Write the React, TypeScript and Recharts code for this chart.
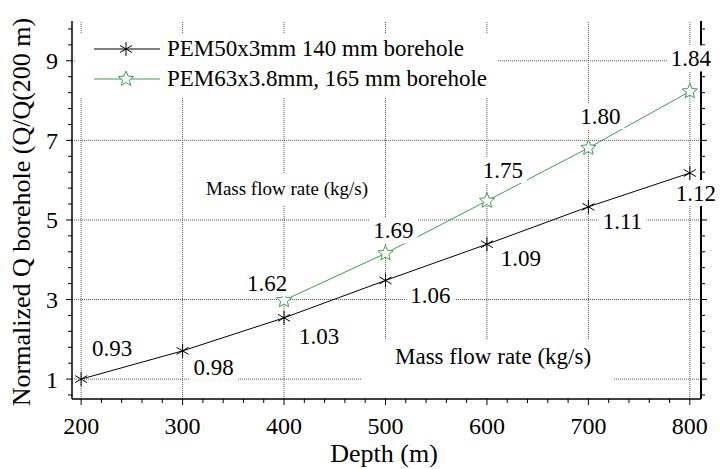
import React from 'react';
import { LineChart, Line, XAxis, YAxis, ReferenceLine, LabelList } from 'recharts';

// depth (m) and normalized heat extraction Q/Q(200 m)
const depths = [200, 300, 400, 500, 600, 700, 800];
const pem50Q = [1.0, 1.71, 2.54, 3.48, 4.39, 5.33, 6.18];
const pem63Q = [null, null, 2.98, 4.16, 5.48, 6.81, 8.23];
// mass flow rate labels (kg/s)
const pem50Flow = ['0.93', '0.98', '1.03', '1.06', '1.09', '1.11', '1.12'];
const pem63Flow = [null, null, '1.62', '1.69', '1.75', '1.80', '1.84'];

const xMajorTicks = [200, 300, 400, 500, 600, 700, 800];
const xMinorTicks = [220, 240, 260, 280, 320, 340, 360, 380, 420, 440, 460, 480, 520, 540, 560, 580, 620, 640, 660, 680, 720, 740, 760, 780];
const yMajorTicks = [1, 3, 5, 7, 9];
const yMinorTicks = [0.6, 1.4, 1.8, 2.2, 2.6, 3.4, 3.8, 4.2, 4.6, 5.4, 5.8, 6.2, 6.6, 7.4, 7.8, 8.2, 8.6, 9.4, 9.8];

const seriesNames = ['PEM50x3mm 140 mm borehole', 'PEM63x3.8mm, 165 mm borehole'];

// label placement relative to each point (px)
const pem50Offsets = [[31, -31], [31, 16], [35, 18], [45, 15], [34, 14], [34, 14], [6, 20]];
const pem63Offsets = [null, null, [-17, -17], [8, -23], [16, -31], [12, -32], [1, -33]];

const data = depths.map((d, i) => ({
  depth: d,
  pem50: pem50Q[i],
  pem63: pem63Q[i],
  flow50: pem50Flow[i],
  flow63: pem63Flow[i],
}));

const FONT = 'Liberation Serif';
const GREEN = '#3f9c52';
const xAll = [...xMajorTicks, ...xMinorTicks].sort((a, b) => a - b);
const yAll = [...yMajorTicks, ...yMinorTicks].sort((a, b) => a - b);

const BottomTick = (props: any) => {
  const { x, y, payload } = props;
  const major = xMajorTicks.includes(payload.value);
  return (
    <g>
      <line x1={x} x2={x} y1={y} y2={y + (major ? 6 : 4)} stroke="#000" strokeWidth={1} />
      {major && (
        <text x={x} y={y + 27} dy="0.35em" textAnchor="middle" fontFamily={FONT} fontSize={24} fill="#000" stroke="none">
          {payload.value}
        </text>
      )}
    </g>
  );
};

const TopTick = (props: any) => {
  const { x, y, payload } = props;
  const major = xMajorTicks.includes(payload.value);
  return <line x1={x} x2={x} y1={y} y2={y - (major ? 6 : 4)} stroke="#000" strokeWidth={1} />;
};

const LeftTick = (props: any) => {
  const { x, y, payload } = props;
  const major = yMajorTicks.includes(payload.value);
  return (
    <g>
      <line x1={x} x2={x - (major ? 6 : 4)} y1={y} y2={y} stroke="#000" strokeWidth={1} />
      {major && (
        <text x={x - 14} y={y} dy="0.35em" textAnchor="end" fontFamily={FONT} fontSize={24} fill="#000" stroke="none">
          {payload.value}
        </text>
      )}
    </g>
  );
};

const RightTick = (props: any) => {
  const { x, y, payload } = props;
  const major = yMajorTicks.includes(payload.value);
  return <line x1={x} x2={x + (major ? 6 : 4)} y1={y} y2={y} stroke="#000" strokeWidth={1} />;
};

const Asterisk = (props: any) => {
  const { cx, cy } = props;
  if (cx == null || cy == null) return null;
  const r = 7;
  const dx = r * Math.cos(Math.PI / 6);
  const dy = r * Math.sin(Math.PI / 6);
  return (
    <g stroke="#000" strokeWidth={1}>
      <line x1={cx} x2={cx} y1={cy - r} y2={cy + r} />
      <line x1={cx - dx} x2={cx + dx} y1={cy - dy} y2={cy + dy} />
      <line x1={cx - dx} x2={cx + dx} y1={cy + dy} y2={cy - dy} />
    </g>
  );
};

const starPath = (cx: number, cy: number, R: number, r: number) => {
  const pts: string[] = [];
  for (let k = 0; k < 10; k++) {
    const rad = k % 2 === 0 ? R : r;
    const a = -Math.PI / 2 + (k * Math.PI) / 5;
    pts.push(`${cx + rad * Math.cos(a)},${cy + rad * Math.sin(a)}`);
  }
  return `M${pts.join('L')}Z`;
};

const Star = (props: any) => {
  const { cx, cy } = props;
  if (cx == null || cy == null) return null;
  return <path d={starPath(cx, cy, 8, 3.6)} fill="#fff" stroke={GREEN} strokeWidth={1} />;
};

const makeLabel = (offsets: (number[] | null)[]) => (props: any) => {
  const { value, index } = props;
  const x = props.x ?? props.viewBox?.x;
  const y = props.y ?? props.viewBox?.y;
  const off = offsets[index];
  if (value == null || off == null || x == null || y == null) return null;
  const cx = x + off[0];
  const cy = y + off[1];
  return (
    <g>
      <rect x={cx - 24} y={cy - 13} width={48} height={26} fill="#fff" stroke="none" />
      <text x={cx} y={cy} dy="0.35em" textAnchor="middle" fontFamily={FONT} fontSize={23} fill="#000" stroke="none">
        {value}
      </text>
    </g>
  );
};

const gridStyle = { stroke: '#555', strokeDasharray: '1 1', strokeWidth: 1 };

export default function App() {
  return (
    <div style={{ position: 'absolute', left: 0, top: 0, width: 721, height: 469, background: '#fff', fontFamily: FONT }}>
      <LineChart
        width={721}
        height={469}
        data={data}
        margin={{ top: 21, right: 0, bottom: 0, left: 0 }}
        style={{ fontFamily: FONT }}
      >
        {xMajorTicks.map((v) => (
          <ReferenceLine key={`gx${v}`} x={v} {...gridStyle} />
        ))}
        {yMajorTicks.map((v) => (
          <ReferenceLine key={`gy${v}`} y={v} {...gridStyle} />
        ))}
        <XAxis
          dataKey="depth"
          type="number"
          domain={[191, 811]}
          ticks={xAll}
          interval={0}
          height={70}
          tickSize={0}
          tickMargin={0}
          tick={<BottomTick />}
          axisLine={{ stroke: '#000', strokeWidth: 1.5 }}
          allowDataOverflow
        />
        <XAxis
          xAxisId="top"
          orientation="top"
          type="number"
          domain={[191, 811]}
          ticks={xAll}
          interval={0}
          height={0}
          tickSize={0}
          tickMargin={0}
          tick={<TopTick />}
          axisLine={{ stroke: '#000', strokeWidth: 1.5 }}
          allowDataOverflow
        />
        <YAxis
          type="number"
          domain={[0.5, 10]}
          ticks={yAll}
          interval={0}
          width={72}
          tickSize={0}
          tickMargin={0}
          tick={<LeftTick />}
          axisLine={{ stroke: '#000', strokeWidth: 1.5 }}
          allowDataOverflow
        />
        <YAxis
          yAxisId="right"
          orientation="right"
          type="number"
          domain={[0.5, 10]}
          ticks={yAll}
          interval={0}
          width={20}
          tickSize={0}
          tickMargin={0}
          tick={<RightTick />}
          axisLine={{ stroke: '#000', strokeWidth: 2 }}
          allowDataOverflow
        />
        <Line
          dataKey="pem50"
          stroke="#000"
          strokeWidth={1}
          dot={<Asterisk />}
          activeDot={false}
          isAnimationActive={false}
        >
          <LabelList dataKey="flow50" content={makeLabel(pem50Offsets)} />
        </Line>
        <Line
          dataKey="pem63"
          stroke={GREEN}
          strokeWidth={1}
          dot={<Star />}
          activeDot={false}
          connectNulls={false}
          isAnimationActive={false}
        >
          <LabelList dataKey="flow63" content={makeLabel(pem63Offsets)} />
        </Line>
      </LineChart>

      {/* legend */}
      <div style={{ position: 'absolute', left: 76, top: 33, width: 422, height: 64, background: '#fff' }}>
        <svg width={90} height={64} style={{ position: 'absolute', left: 0, top: 0 }}>
          <line x1={18} x2={84} y1={16} y2={16} stroke="#000" strokeWidth={1} />
          <Asterisk cx={50} cy={16} />
          <line x1={18} x2={84} y1={46} y2={46} stroke={GREEN} strokeWidth={1} />
          <Star cx={50} cy={46} />
        </svg>
        <div style={{ position: 'absolute', left: 91, top: 2, fontSize: 23, lineHeight: '28px', whiteSpace: 'nowrap' }}>
          {seriesNames[0]}
        </div>
        <div style={{ position: 'absolute', left: 91, top: 32, fontSize: 23, lineHeight: '28px', whiteSpace: 'nowrap' }}>
          {seriesNames[1]}
        </div>
      </div>

      {/* annotations */}
      <div style={{ position: 'absolute', left: 200, top: 174, width: 170, height: 31, background: '#fff' }}>
        <div style={{ position: 'absolute', left: 6, top: 2, fontSize: 19, lineHeight: '26px', whiteSpace: 'nowrap' }}>
          Mass flow rate (kg/s)
        </div>
      </div>
      <div style={{ position: 'absolute', left: 362, top: 340, width: 252, height: 58, background: '#fff' }}>
        <div style={{ position: 'absolute', left: 33, top: 3, fontSize: 23, lineHeight: '28px', whiteSpace: 'nowrap' }}>
          Mass flow rate (kg/s)
        </div>
      </div>

      {/* axis titles */}
      <div style={{ position: 'absolute', left: 284, top: 439, width: 200, textAlign: 'center', fontSize: 26, lineHeight: '30px' }}>
        Depth (m)
      </div>
      <div
        style={{
          position: 'absolute',
          left: 22,
          top: 212,
          transform: 'translate(-50%, -50%) rotate(-90deg)',
          fontSize: 26,
          lineHeight: '30px',
          whiteSpace: 'nowrap',
        }}
      >
        Normalized Q borehole (Q/Q(200 m)
      </div>
    </div>
  );
}
